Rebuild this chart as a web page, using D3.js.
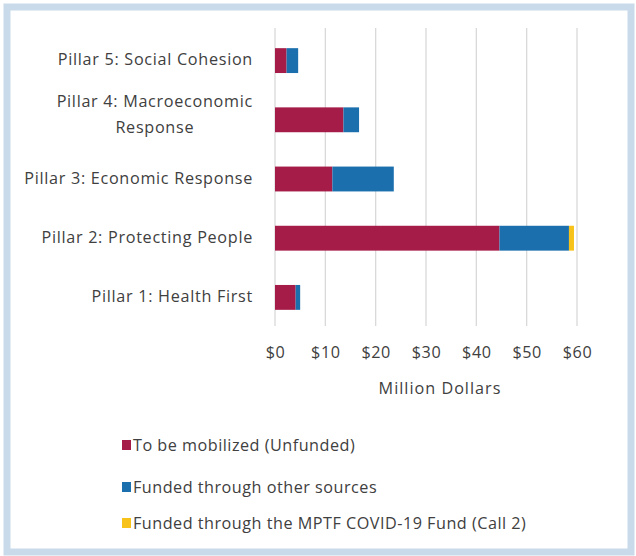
<!DOCTYPE html>
<html><head><meta charset="utf-8">
<script src="https://cdn.jsdelivr.net/npm/d3@7"></script>
<style>body{margin:0;background:#fff;}svg{display:block;}</style>
</head><body>
<svg id="chart" width="636" height="556"></svg>
<script>
const categories = ["Pillar 5: Social Cohesion", "Pillar 4: Macroeconomic Response", "Pillar 3: Economic Response", "Pillar 2: Protecting People", "Pillar 1: Health First"];
const labelLines = [["Pillar 5: Social Cohesion"], ["Pillar 4: Macroeconomic", "Response"], ["Pillar 3: Economic Response"], ["Pillar 2: Protecting People"], ["Pillar 1: Health First"]];
const unfunded = [2.3, 13.6, 11.4, 44.6, 4.1];
const otherSources = [2.3, 3.1, 12.2, 13.8, 0.9];
const mptfFund = [0, 0, 0, 1.0, 0];
const seriesNames = ["To be mobilized (Unfunded)", "Funded through other sources", "Funded through the MPTF COVID-19 Fund (Call 2)"];
const seriesColors = ["#a51c48", "#1b6fad", "#f7c31a"];
const tickValues = [0, 10, 20, 30, 40, 50, 60];

const svg = d3.select("#chart");
const font = "'Open Sans', sans-serif";
const textColor = "#404040";
const fs = 16.2;
const ls = 0.7;

// frame
svg.append("rect").attr("x", 0).attr("y", 0).attr("width", 636).attr("height", 556).attr("fill", "#fff");
svg.append("rect").attr("x", 7).attr("y", 7).attr("width", 624).attr("height", 545)
  .attr("fill", "none").attr("stroke", "#c9dbea").attr("stroke-width", 7);

const x = d3.scaleLinear().domain([0, 60]).range([275, 577]);
const y = d3.scaleBand().domain(categories).range([31, 327]).paddingInner(0.58).paddingOuter(0.29);

// gridlines
svg.append("g").selectAll("line").data(tickValues).join("line")
  .attr("x1", d => x(d)).attr("x2", d => x(d))
  .attr("y1", 28).attr("y2", 326)
  .attr("stroke", "#d9d9d9").attr("stroke-width", 1.3);

// stacked bars
const rows = categories.map((c, i) => ({cat: c, s0: unfunded[i], s1: otherSources[i], s2: mptfFund[i]}));
const stack = d3.stack().keys(["s0", "s1", "s2"])(rows);
svg.append("g").selectAll("g").data(stack).join("g")
  .attr("fill", (d, i) => seriesColors[i])
  .selectAll("rect").data(d => d.filter(p => p[1] - p[0] > 0)).join("rect")
  .attr("x", d => x(d[0])).attr("width", d => x(d[1]) - x(d[0]))
  .attr("y", d => y(d.data.cat)).attr("height", y.bandwidth());

// x axis tick labels
const xAxis = d3.axisBottom(x).tickValues(tickValues).tickFormat(d => "$" + d).tickSize(0).tickPadding(0);
const gx = svg.append("g").attr("transform", "translate(0,352)").call(xAxis);
gx.select(".domain").remove();
gx.selectAll("text").attr("font-family", font).attr("font-size", fs).attr("letter-spacing", 0.6)
  .attr("fill", textColor).attr("dy", "0.35em").attr("y", 0);

svg.append("text").attr("x", x(30) + 14).attr("y", 388).attr("dy", "0.35em").attr("text-anchor", "middle")
  .attr("font-family", font).attr("font-size", fs).attr("letter-spacing", 1).attr("fill", textColor).text("Million Dollars");

// category labels
const yl = svg.append("g");
categories.forEach((c, i) => {
  const lines = labelLines[i];
  const cy = y(c) + y.bandwidth() / 2;
  if (lines.length === 1) {
    yl.append("text").attr("x", 253).attr("y", cy - 1).attr("dy", "0.35em").attr("text-anchor", "end")
      .attr("font-family", font).attr("font-size", fs).attr("letter-spacing", ls).attr("fill", textColor).text(lines[0]);
  } else {
    const t0 = yl.append("text").attr("x", 253).attr("y", cy - 18).attr("dy", "0.35em").attr("text-anchor", "end")
      .attr("font-family", font).attr("font-size", fs).attr("letter-spacing", ls).attr("fill", textColor).text(lines[0]);
    const bb = t0.node().getBBox();
    yl.append("text").attr("x", bb.x + bb.width / 2).attr("y", cy + 8).attr("dy", "0.35em").attr("text-anchor", "middle")
      .attr("font-family", font).attr("font-size", fs).attr("letter-spacing", ls).attr("fill", textColor).text(lines[1]);
  }
});

// legend
const legendY = [445, 487, 523];
const lg = svg.append("g");
seriesNames.forEach((n, i) => {
  lg.append("rect").attr("x", 122).attr("y", legendY[i] - 5).attr("width", 9).attr("height", 10).attr("fill", seriesColors[i]);
  lg.append("text").attr("x", 133).attr("y", legendY[i]).attr("dy", "0.35em")
    .attr("font-family", font).attr("font-size", fs).attr("letter-spacing", 0.5).attr("fill", textColor).text(n);
});
</script>
</body></html>
